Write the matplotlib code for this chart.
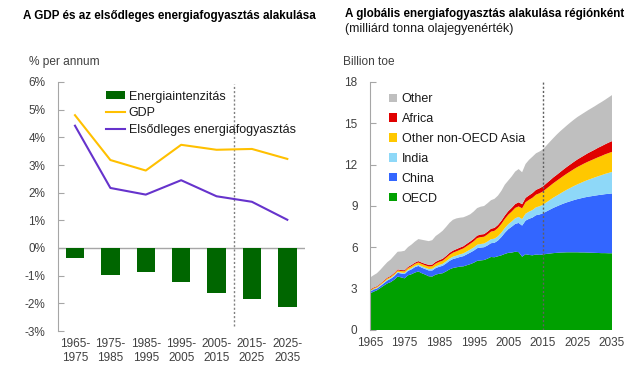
import matplotlib
matplotlib.use("Agg")
import matplotlib.pyplot as plt
from matplotlib.patches import Patch
from matplotlib.lines import Line2D
import numpy as np

plt.rcParams['font.family'] = ['Liberation Sans', 'DejaVu Sans']

# ---------------- Left chart data ----------------
periods = ["1965-\n1975", "1975-\n1985", "1985-\n1995", "1995-\n2005",
           "2005-\n2015", "2015-\n2025", "2025-\n2035"]
energy_intensity = [-0.36, -0.98, -0.85, -1.23, -1.62, -1.85, -2.13]
gdp = [4.80, 3.18, 2.80, 3.73, 3.55, 3.58, 3.22]
primary_energy = [4.42, 2.17, 1.93, 2.45, 1.87, 1.67, 1.02]
left_yticks = [-3, -2, -1, 0, 1, 2, 3, 4, 5, 6]

# ---------------- Right chart data (billion toe) ----------------
years = list(range(1965, 2036))
oecd = [2.65, 2.78, 2.88, 3.05, 3.22, 3.38, 3.48, 3.65, 3.88, 3.82,
        3.75, 3.97, 4.05, 4.17, 4.25, 4.12, 4.02, 3.90, 3.88, 4.02,
        4.08, 4.12, 4.25, 4.40, 4.50, 4.55, 4.60, 4.62, 4.70, 4.78,
        4.88, 5.02, 5.05, 5.08, 5.18, 5.30, 5.28, 5.35, 5.42, 5.52,
        5.60, 5.62, 5.68, 5.65, 5.32, 5.50, 5.45, 5.42, 5.48, 5.45,
        5.48, 5.52, 5.55, 5.58, 5.60, 5.62, 5.63, 5.64, 5.64, 5.64,
        5.64, 5.63, 5.63, 5.62, 5.61, 5.60, 5.59, 5.58, 5.58, 5.57,
        5.57]
china = [0.13, 0.14, 0.13, 0.14, 0.17, 0.21, 0.24, 0.25, 0.27, 0.28,
         0.31, 0.32, 0.35, 0.39, 0.40, 0.40, 0.40, 0.42, 0.44, 0.47,
         0.51, 0.54, 0.58, 0.62, 0.65, 0.67, 0.70, 0.74, 0.79, 0.84,
         0.88, 0.92, 0.93, 0.93, 0.96, 1.00, 1.05, 1.14, 1.33, 1.54,
         1.72, 1.88, 2.02, 2.12, 2.26, 2.44, 2.62, 2.74, 2.85, 2.93,
         2.99, 3.08, 3.18, 3.28, 3.37, 3.46, 3.55, 3.63, 3.71, 3.79,
         3.86, 3.93, 3.99, 4.05, 4.10, 4.15, 4.20, 4.24, 4.28, 4.31,
         4.34]
india = [0.05, 0.05, 0.05, 0.06, 0.06, 0.06, 0.06, 0.07, 0.07, 0.07,
         0.08, 0.08, 0.09, 0.09, 0.09, 0.10, 0.10, 0.11, 0.12, 0.12,
         0.13, 0.14, 0.15, 0.16, 0.17, 0.18, 0.19, 0.20, 0.21, 0.22,
         0.23, 0.25, 0.26, 0.27, 0.28, 0.29, 0.30, 0.31, 0.32, 0.34,
         0.36, 0.38, 0.41, 0.44, 0.47, 0.50, 0.52, 0.55, 0.57, 0.60,
         0.62, 0.66, 0.70, 0.74, 0.78, 0.82, 0.87, 0.92, 0.97, 1.02,
         1.07, 1.12, 1.17, 1.22, 1.27, 1.32, 1.37, 1.42, 1.47, 1.52,
         1.57]
other_asia = [0.06, 0.06, 0.07, 0.07, 0.08, 0.09, 0.09, 0.10, 0.11, 0.11,
              0.12, 0.13, 0.14, 0.15, 0.16, 0.17, 0.17, 0.18, 0.19, 0.21,
              0.22, 0.23, 0.25, 0.27, 0.29, 0.31, 0.33, 0.36, 0.39, 0.42,
              0.45, 0.48, 0.50, 0.49, 0.52, 0.55, 0.57, 0.60, 0.63, 0.66,
              0.69, 0.72, 0.75, 0.76, 0.78, 0.83, 0.86, 0.89, 0.92, 0.94,
              0.96, 0.99, 1.02, 1.05, 1.08, 1.11, 1.14, 1.17, 1.20, 1.23,
              1.26, 1.28, 1.30, 1.32, 1.34, 1.36, 1.38, 1.40, 1.42, 1.44,
              1.45]
africa = [0.05, 0.05, 0.05, 0.05, 0.06, 0.06, 0.06, 0.07, 0.07, 0.07,
          0.08, 0.08, 0.09, 0.09, 0.10, 0.10, 0.11, 0.12, 0.12, 0.13,
          0.13, 0.14, 0.14, 0.15, 0.15, 0.16, 0.16, 0.16, 0.17, 0.17,
          0.18, 0.18, 0.19, 0.19, 0.20, 0.21, 0.21, 0.22, 0.23, 0.25,
          0.26, 0.27, 0.28, 0.30, 0.30, 0.32, 0.32, 0.34, 0.35, 0.36,
          0.37, 0.39, 0.40, 0.42, 0.43, 0.45, 0.47, 0.49, 0.51, 0.53,
          0.55, 0.57, 0.59, 0.62, 0.64, 0.66, 0.69, 0.71, 0.73, 0.76,
          0.78]
other = [0.86, 0.89, 0.94, 1.00, 1.06, 1.12, 1.19, 1.26, 1.28, 1.35,
         1.41, 1.44, 1.48, 1.53, 1.60, 1.66, 1.70, 1.72, 1.77, 1.87,
         1.93, 2.03, 2.11, 2.18, 2.24, 2.23, 2.17, 2.10, 2.02, 1.97,
         1.98, 2.00, 2.02, 2.04, 2.06, 2.07, 2.11, 2.13, 2.17, 2.24,
         2.22, 2.28, 2.36, 2.41, 2.32, 2.46, 2.58, 2.64, 2.65, 2.67,
         2.68, 2.74, 2.80, 2.85, 2.92, 2.96, 2.98, 3.01, 3.04, 3.06,
         3.08, 3.09, 3.10, 3.11, 3.13, 3.15, 3.17, 3.20, 3.23, 3.28,
         3.34]
region_names = ["OECD", "China", "India", "Other non-OECD Asia", "Africa", "Other"]
right_xticks = [1965, 1975, 1985, 1995, 2005, 2015, 2025, 2035]
right_yticks = [0, 3, 6, 9, 12, 15, 18]

# ---------------- Styles ----------------
c_bar = "#006600"
c_gdp = "#FFC000"
c_pe = "#6633CC"
region_colors = ["#00A000", "#3366FF", "#8ED8F8", "#FFC800", "#E00000", "#BFBFBF"]
axis_gray = "#A6A6A6"
tick_txt = "#404040"

W, H = 640, 375
fig = plt.figure(figsize=(6.4, 3.75), dpi=100)

def px_axes(x0, x1, ytop, ybot):
    return fig.add_axes([x0 / W, 1 - ybot / H, (x1 - x0) / W, (ybot - ytop) / H])

# ---------------- Left chart ----------------
ax1 = px_axes(58, 305, 82, 331)
xpos = np.arange(len(periods))
ax1.bar(xpos, energy_intensity, width=0.52, color=c_bar, zorder=2)
ax1.plot(xpos, gdp, color=c_gdp, lw=1.5, zorder=3)
ax1.plot(xpos, primary_energy, color=c_pe, lw=1.5, zorder=3)
ax1.axhline(0, color=axis_gray, lw=1.0, zorder=1)
ax1.axvline(4.5, ymin=0.02, ymax=0.99, color="#808080", lw=1.0, ls=(0, (1.5, 1.5)), zorder=1)
ax1.set_xlim(-0.48, 6.5)
ax1.set_ylim(-3, 6)
ax1.set_yticks(left_yticks)
ax1.set_yticklabels([f"{v}%" for v in left_yticks])
ax1.set_xticks(xpos)
ax1.set_xticklabels(periods, linespacing=1.25)
for s in ["top", "right", "bottom"]:
    ax1.spines[s].set_visible(False)
ax1.spines["left"].set_color(axis_gray)
ax1.tick_params(axis="y", direction="in", length=4, color=axis_gray,
                labelsize=8.5, labelcolor=tick_txt, pad=9)
ax1.tick_params(axis="x", length=0, labelsize=8.5, labelcolor=tick_txt, pad=5)

handles1 = [Patch(facecolor=c_bar, edgecolor="none"),
            Line2D([], [], color=c_gdp, lw=1.5),
            Line2D([], [], color=c_pe, lw=1.5)]
labels1 = ["Energiaintenzitás", "GDP", "Elsődleges energiafogyasztás"]
ax1.legend(handles1, labels1, loc="upper left", bbox_to_anchor=(0.195, 0.965),
           frameon=False, fontsize=9, borderpad=0, borderaxespad=0,
           labelspacing=0.36, handlelength=1.5, handleheight=0.6,
           handletextpad=0.3, labelcolor="#1a1a1a")

# ---------------- Right chart ----------------
ax2 = px_axes(370, 612, 82, 330)
ax2.stackplot(years, oecd, china, india, other_asia, africa, other,
              colors=region_colors, linewidth=0, zorder=2)
ax2.axvline(2015, color="#606060", lw=1.0, ls=(0, (1.5, 1.5)), zorder=3)
ax2.set_xlim(1965, 2035)
ax2.set_ylim(0, 18)
ax2.set_xticks(right_xticks)
ax2.set_yticks(right_yticks)
for s in ["top", "right", "bottom"]:
    ax2.spines[s].set_visible(False)
ax2.spines["left"].set_color(axis_gray)
ax2.tick_params(axis="y", direction="in", length=4, color=axis_gray,
                labelsize=8.5, labelcolor=tick_txt, pad=9)
ax2.tick_params(axis="x", length=0, labelsize=8.5, labelcolor=tick_txt, pad=5)

handles2 = [Patch(facecolor=region_colors[i], edgecolor="none") for i in range(5, -1, -1)]
labels2 = [region_names[i] for i in range(5, -1, -1)]
ax2.legend(handles2, labels2, loc="upper left", bbox_to_anchor=(0.08, 0.955),
           frameon=False, fontsize=9, borderpad=0, borderaxespad=0,
           labelspacing=0.63, handlelength=0.65, handleheight=0.65,
           handletextpad=0.35, labelcolor="#1a1a1a")

# ---------------- Texts ----------------
fig.text(23 / W, 1 - 19 / H, "A GDP és az elsődleges energiafogyasztás alakulása",
         fontsize=8.4, fontweight="bold", ha="left", va="baseline", color="#000000")
fig.text(29 / W, 1 - 65.5 / H, "% per annum", fontsize=8.6, ha="left", va="baseline",
         color=tick_txt)
fig.text(345 / W, 1 - 17.5 / H, "A globális energiafogyasztás alakulása régiónként",
         fontsize=8.4, fontweight="bold", ha="left", va="baseline", color="#000000")
fig.text(345 / W, 1 - 32 / H, "(milliárd tonna olajegyenérték)", fontsize=9,
         ha="left", va="baseline", color="#1a1a1a")
fig.text(343 / W, 1 - 65 / H, "Billion toe", fontsize=8.6, ha="left", va="baseline",
         color=tick_txt)

fig.savefig("out.png", dpi=100)
